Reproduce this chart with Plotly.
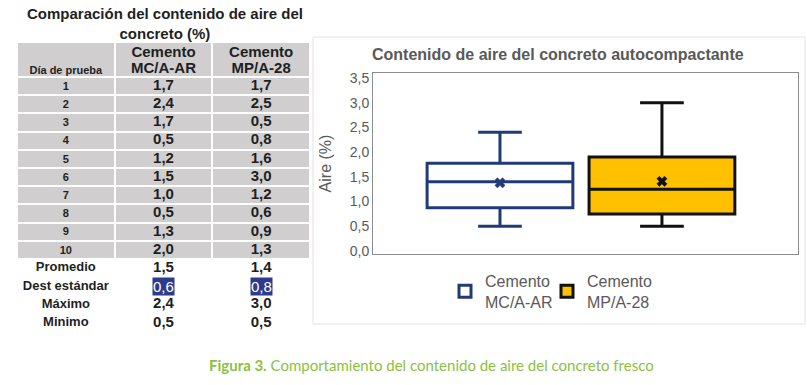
import numpy as np
import plotly.graph_objects as go

# ---------------- data ----------------
dias = [1, 2, 3, 4, 5, 6, 7, 8, 9, 10]
mc_a_ar = [1.7, 2.4, 1.7, 0.5, 1.2, 1.5, 1.0, 0.5, 1.3, 2.0]
mp_a_28 = [1.7, 2.5, 0.5, 0.8, 1.6, 3.0, 1.2, 0.6, 0.9, 1.3]
resumen_labels = ["Promedio", "Dest estándar", "Máximo", "Minimo"]
resumen_mc = [1.5, 0.6, 2.4, 0.5]
resumen_mp = [1.4, 0.8, 3.0, 0.5]
header_first = "Día de prueba"
header_cols = [["Cemento", "MC/A-AR"], ["Cemento", "MP/A-28"]]
series_names = ["Cemento<br>MC/A-AR", "Cemento<br>MP/A-28"]
table_title = "Comparación del contenido de aire del<br>concreto (%)"
chart_title = "Contenido de aire del concreto autocompactante"
y_title = "Aire (%)"
y_ticks = [0.0, 0.5, 1.0, 1.5, 2.0, 2.5, 3.0, 3.5]
caption_bold = "Figura 3."
caption_text = "Comportamiento del contenido de aire del concreto fresco"

# ---------------- styles ----------------
W, H = 807, 385
FONT = "Liberation Sans, Arial, sans-serif"
TXT = "#1f1f1f"
GRAYTXT = "#595959"
CELL = "#D0CECE"
box_line = ["#203A78", "#111111"]
box_fill = ["#FFFFFF", "#FFC000"]
HILITE = "#2E3A8C"
HEADER_UNITS = 1.92


def fmt(v):
    return f"{v:.1f}".replace(".", ",")


def px_x(p):
    return p / W


def px_y(p):
    return (H - p) / H


fig = go.Figure()

# ---------------- table (x2 / y2) ----------------
ncols = 3
nrows = len(dias)
y_edges = [-HEADER_UNITS] + list(range(0, nrows + 1))
fig.add_trace(go.Heatmap(
    z=[[1] * ncols for _ in range(nrows + 1)],
    x=list(range(ncols + 1)), y=y_edges,
    colorscale=[[0, CELL], [1, CELL]], showscale=False,
    xgap=2, ygap=2, hoverinfo="skip", xaxis="x2", yaxis="y2"))

common = dict(mode="text", hoverinfo="skip", showlegend=False, xaxis="x2", yaxis="y2",
              cliponaxis=False)
# header texts
fig.add_trace(go.Scatter(
    x=[0.5], y=[-0.32], text=[header_first],
    textfont=dict(family=FONT, size=11, color=TXT, weight="bold"), **common))
for line, ypos in zip(range(2), [-1.33, -0.40]):
    fig.add_trace(go.Scatter(
        x=[c + 1.5 for c in range(len(header_cols))], y=[ypos] * len(header_cols),
        text=[h[line] for h in header_cols],
        textfont=dict(family=FONT, size=15, color=TXT, weight="bold"), **common))
# day numbers
fig.add_trace(go.Scatter(
    x=[0.5] * nrows, y=[i + 0.55 for i in range(nrows)], text=[str(d) for d in dias],
    textfont=dict(family=FONT, size=11, color=TXT, weight="bold"), **common))
# values
for c, vals in enumerate([mc_a_ar, mp_a_28]):
    fig.add_trace(go.Scatter(
        x=[c + 1.5] * nrows, y=[i + 0.5 for i in range(nrows)], text=[fmt(v) for v in vals],
        textfont=dict(family=FONT, size=15, color=TXT, weight="bold"), **common))
# summary labels
fig.add_trace(go.Scatter(
    x=[0.5] * len(resumen_labels), y=[nrows + i + 0.5 for i in range(len(resumen_labels))],
    text=resumen_labels,
    textfont=dict(family=FONT, size=13, color=TXT, weight="bold"), **common))
# summary values (dest. estándar shown highlighted via annotations)
for c, vals in enumerate([resumen_mc, resumen_mp]):
    idx = [i for i, lab in enumerate(resumen_labels) if lab != "Dest estándar"]
    fig.add_trace(go.Scatter(
        x=[c + 1.5] * len(idx), y=[nrows + i + 0.5 for i in idx], text=[fmt(vals[i]) for i in idx],
        textfont=dict(family=FONT, size=15, color=TXT, weight="bold"), **common))
    j = resumen_labels.index("Dest estándar")
    fig.add_annotation(x=c + 1.5, y=nrows + j + 0.5, xref="x2", yref="y2",
                       xanchor="center", yanchor="middle",
                       text=fmt(vals[j]), showarrow=False, bgcolor=HILITE, borderpad=0,
                       font=dict(family=FONT, size=15, color="white"))

# ---------------- box plot ----------------
legends = ["legend", "legend2"]
for i, (name, data) in enumerate(zip(series_names, [mc_a_ar, mp_a_28])):
    arr = np.array(data)
    q1 = float(np.percentile(arr, 25, method="weibull"))
    q3 = float(np.percentile(arr, 75, method="weibull"))
    med = float(np.median(arr))
    iqr = q3 - q1
    lo = float(arr[arr >= q1 - 1.5 * iqr].min())
    hi = float(arr[arr <= q3 + 1.5 * iqr].max())
    fig.add_trace(go.Box(
        x=[i], q1=[q1], median=[med], q3=[q3], lowerfence=[lo], upperfence=[hi],
        name=name, fillcolor=box_fill[i], line=dict(color=box_line[i], width=3),
        width=0.9, whiskerwidth=0.3, hoverinfo="skip", legend=legends[i]))
    fig.add_trace(go.Scatter(
        x=[i], y=[float(arr.mean())], mode="markers", showlegend=False, hoverinfo="skip",
        marker=dict(symbol="x", size=9, color=box_line[i], line=dict(width=0.5, color=box_line[i]))))

leg_common = dict(orientation="h", xanchor="left", yanchor="top", y=px_y(264),
                  font=dict(size=16, color=GRAYTXT), bgcolor="rgba(0,0,0,0)", itemwidth=30)

fig.update_layout(
    width=W, height=H, margin=dict(l=0, r=0, t=0, b=0, autoexpand=False),
    paper_bgcolor="white", plot_bgcolor="white",
    separators=",.", boxmode="overlay",
    font=dict(family=FONT, color=GRAYTXT),
    xaxis=dict(domain=[px_x(373), px_x(798)], range=[-0.784, 1.84], showticklabels=False,
               showgrid=False, zeroline=False, showline=True, mirror=True,
               linecolor="#8c8c8c", linewidth=1, ticks="", automargin=False),
    yaxis=dict(domain=[px_y(254), px_y(73)], range=[-0.06, 3.6], tickvals=y_ticks,
               tickformat=".1f", showgrid=False, zeroline=False, showline=True, mirror=True,
               linecolor="#8c8c8c", linewidth=1, ticks="", automargin=False,
               tickfont=dict(size=14, color=GRAYTXT),
               title=dict(text=y_title, font=dict(size=16, color=GRAYTXT), standoff=14)),
    xaxis2=dict(domain=[px_x(17), px_x(310)], range=[0, 3], visible=False, anchor="y2"),
    yaxis2=dict(domain=[px_y(332), px_y(42)], range=[14, -HEADER_UNITS], visible=False,
                anchor="x2"),
    legend=dict(x=px_x(445), **leg_common),
    legend2=dict(x=px_x(547), **leg_common),
    showlegend=True,
)

# card border around chart
fig.add_shape(type="rect", xref="paper", yref="paper",
              x0=px_x(313), x1=px_x(805), y0=px_y(324), y1=px_y(37),
              line=dict(color="#e3e3e3", width=1), layer="below")

fig.add_annotation(x=px_x(165), y=px_y(23), xref="paper", yref="paper", showarrow=False,
                   xanchor="center", yanchor="middle",
                   text=table_title, align="center",
                   font=dict(family=FONT, size=15, color=TXT, weight="bold"))
fig.add_annotation(x=px_x(558), y=px_y(54), xref="paper", yref="paper", showarrow=False,
                   xanchor="center", yanchor="middle",
                   text=chart_title, font=dict(family=FONT, size=16, color=GRAYTXT, weight="bold"))
fig.add_annotation(x=px_x(432), y=px_y(365), xref="paper", yref="paper", showarrow=False,
                   xanchor="center", yanchor="middle",
                   text=f"<b>{caption_bold}</b> {caption_text}",
                   font=dict(family="Lato, Noto Sans, sans-serif", size=15, color="#8DC03F"))

fig.write_html("out.html")
